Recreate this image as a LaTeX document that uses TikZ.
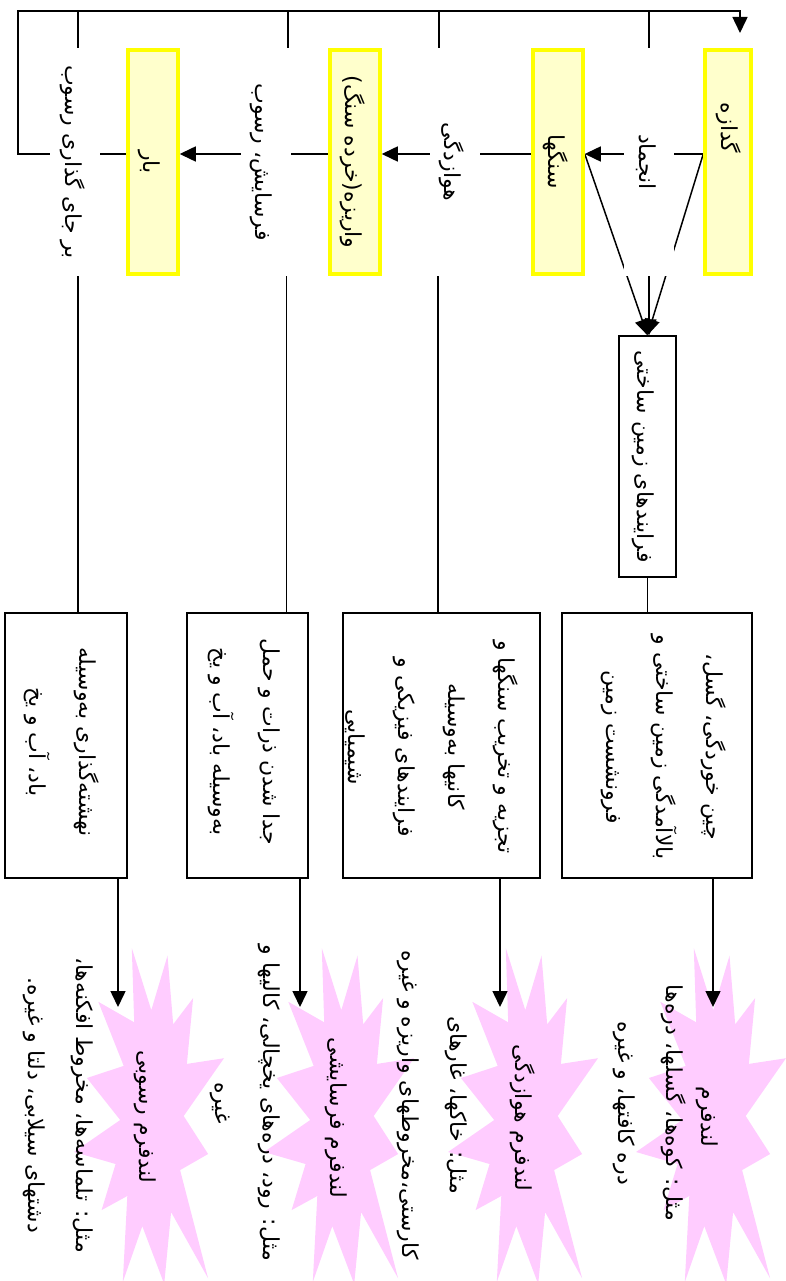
\documentclass[tikz,border=0pt]{standalone}
\usepackage{fontspec}
\usepackage{graphicx}
\newfontfamily\fa[Script=Arabic]{DejaVu Sans}
\TeXXeTstate=1
\usetikzlibrary{arrows.meta,calc}
\pgfdeclarelayer{back}\pgfdeclarelayer{mid}\pgfsetlayers{back,mid,main}
\definecolor{ybox}{HTML}{FFFFCC}
\definecolor{yline}{HTML}{FFFF00}
\definecolor{burstc}{HTML}{FFCCFF}
\newcommand\R[1]{\beginR #1\endR}
\newcommand\vt[1]{\rotatebox{-90}{\fa\fontsize{22}{50}\selectfont\begin{tabular}{@{}c@{}}#1\end{tabular}}}
\newcommand\vtx[1]{\rotatebox{-90}{\fa\fontsize{22}{48}\selectfont\begin{tabular}{@{}c@{}}#1\end{tabular}}}
\newcommand\burst[2]{\begin{scope}[shift={(#1,#2)}]
\fill[burstc] (109.7,168) -- (150,110.2) -- (112.9,115.9) -- (119.1,50.1) -- (99.2,76.3) -- (93.5,7.7) -- (77.3,62.2) -- (57.8,0) -- (60.2,74.3) -- (24.3,53.8) -- (49.7,117.9) -- (12.9,130.0) -- (46.2,172.0) -- (0,204.0) -- (41.6,216.0) -- (27.6,262.1) -- (53.3,248.0) -- (48.8,334.0) -- (68.3,278.2) -- (90.2,336) -- (97.1,264.1) -- (134.1,330.3) -- (106.1,222.1) -- (134.1,206.0) -- cycle;
\end{scope}}
\begin{document}
\begin{tikzpicture}[x=1pt,y=-1pt,
  yb/.style={draw=yline, fill=ybox, line width=3.5pt, minimum width=46pt, minimum height=224pt, inner sep=0pt},
  lb/.style={fill=white, minimum width=49pt, minimum height=228pt, inner sep=0pt},
  bx/.style={draw=black, fill=white, line width=1.4pt, inner sep=0pt},
  tx/.style={inner sep=0pt},
  con/.style={line width=1.5pt},
  arr/.style={con, -{Triangle[length=16pt,width=15pt]}}]
\path[use as bounding box] (0,0) rectangle (786,1281);
% starbursts
\begin{pgfonlayer}{back}
\burst{636}{948}
\burst{448}{948}
\burst{264}{948}
\burst{74}{948}
\end{pgfonlayer}
% main row
\node[yb] (g1) at (728,162) {};
\node[tx] (g1t) at (731,128) {\vt{\R{گدازه}}};
\node[yb] (g2) at (558,162) {\vt{\R{سنگها}}};
\node[yb] (g3) at (355,162) {\vt{\R{واریزه(خرده سنگ)}}};
\node[yb] (g4) at (153,162) {\vt{\R{بار}}};
\node[lb] (l1) at (649,162) {\vt{\R{انجماد}}};
\node[lb] (l2) at (454.5,162) {\vt{\R{هوازدگی}}};
\node[lb] (l3) at (265.5,162) {\vt{\R{فرسایش، رسوب}}};
\node[lb] (l4) at (75,162) {\vt{\R{بر جای گذاری رسوب}}};
\node[bx, minimum width=57pt, minimum height=241pt] (t) at (647.5,456.5) {\vt{\R{فرایندهای زمین ساختی}}};
% detail boxes
\node[bx, minimum width=190pt, minimum height=265pt] (d1) at (657,745.5) {};
\node[bx, minimum width=197pt, minimum height=265pt] (d2) at (441.5,745.5) {};
\node[bx, minimum width=121pt, minimum height=265pt] (d3) at (247.5,745.5) {};
\node[bx, minimum width=122pt, minimum height=265pt] (d4) at (66,745.5) {};
\node[tx] (d1t) at (666,747) {\vt{\R{چین خوردگی، گسل،}\\\R{بالاآمدگی زمین ساختی و}\\\R{فرونشست زمین}}};
\node[tx] (d2t) at (433,747) {\vt{\R{تجزیه و تخریب سنگها و}\\\R{کانیها به‌وسیله}\\\R{فرایندهای فیزیکی و}\\\R{شیمیایی}}};
\node[tx] (d3t) at (248,742) {\vt{\R{جدا شدن ذرات و حمل}\\\R{به‌وسیله باد، آب و یخ}}};
\node[tx] (d4t) at (64,742) {\vt{\R{نهشته‌گذاری به‌وسیله}\\\R{باد، آب و یخ}}};
% starburst texts
\node[tx] (s1) at (711,1117) {\vt{\R{لندفرم}}};
\node[tx] (s2) at (525,1118) {\vt{\R{لندفرم هوازدگی}}};
\node[tx] (s3) at (340,1118) {\vt{\R{لندفرم فرسایشی}}};
\node[tx] (s4) at (149,1117) {\vt{\R{لندفرم رسوبی}}};
% examples
\node[tx] (e1) at (652,1103) {\vtx{\R{مثل: کوه‌ها، گسلها، دره‌ها}\\\R{دره کافتها، و غیره}}};
\node[tx] (e2) at (436,1105) {\vtx{\R{مثل: خاکها، غارهای}\\\R{کارستی،مخروطهای واریزه و غیره}}};
\node[tx] (e3) at (249,1103) {\vtx{\R{مثل: رود، دره‌های یخچالی، کالیها و}\\\R{غیره}}};
\node[tx] (e4) at (62,1105) {\vtx{\R{مثل: تلماسه‌ها، مخروط افکنه‌ها،}\\\R{دشتهای سیلابی، دلتا و غیره.}}};
% connectors
\coordinate (row) at (0,154);
\coordinate (topl) at (0,11);
\coordinate (lx) at (18,0);
\coordinate (atip) at (740,33);
\coordinate (a1) at (713,1007);
\coordinate (a2) at (500,1007);
\coordinate (a3) at (300,1007);
\coordinate (a4) at (118,1007);
\begin{pgfonlayer}{mid}
\draw[arr] (g1.west |- row) -- (g2.east |- row);
\draw[arr] (g2.west |- row) -- (g3.east |- row);
\draw[arr] (g3.west |- row) -- (g4.east |- row);
\draw[arr] (g4.west |- row) -| (lx |- topl) -| (atip);
\draw[con] (l1.north) -- (l1.north |- topl);
\draw[con] ([xshift=-15.5pt]l2.north) -- ([xshift=-15.5pt]l2.north |- topl);
\draw[con] ([xshift=22.5pt]l3.north) -- ([xshift=22.5pt]l3.north |- topl);
\draw[con] ([xshift=3pt]l4.north) -- ([xshift=3pt]l4.north |- topl);
\draw[con] ([xshift=3pt]l4.south) -- ([xshift=3pt]l4.south |- d4.north);
\draw[con] ([xshift=21pt]l3.south) -- ([xshift=21pt]l3.south |- d3.north);
\draw[con] ([xshift=-16.5pt]l2.south) -- ([xshift=-16.5pt]l2.south |- d2.north);
\draw[arr] (l1.south) -- (l1.south |- t.north);
\draw[arr] (g1.west |- row) -- (t.north);
\draw[arr] (g2.east |- row) -- (t.north);
\draw[con] (t.south) -- (t.south |- d1.north);
\draw[arr] (d1.south -| a1) -- (a1);
\draw[arr] (d2.south -| a2) -- (a2);
\draw[arr] (d3.south -| a3) -- (a3);
\draw[arr] (d4.south -| a4) -- (a4);
\end{pgfonlayer}
\end{tikzpicture}
\end{document}
